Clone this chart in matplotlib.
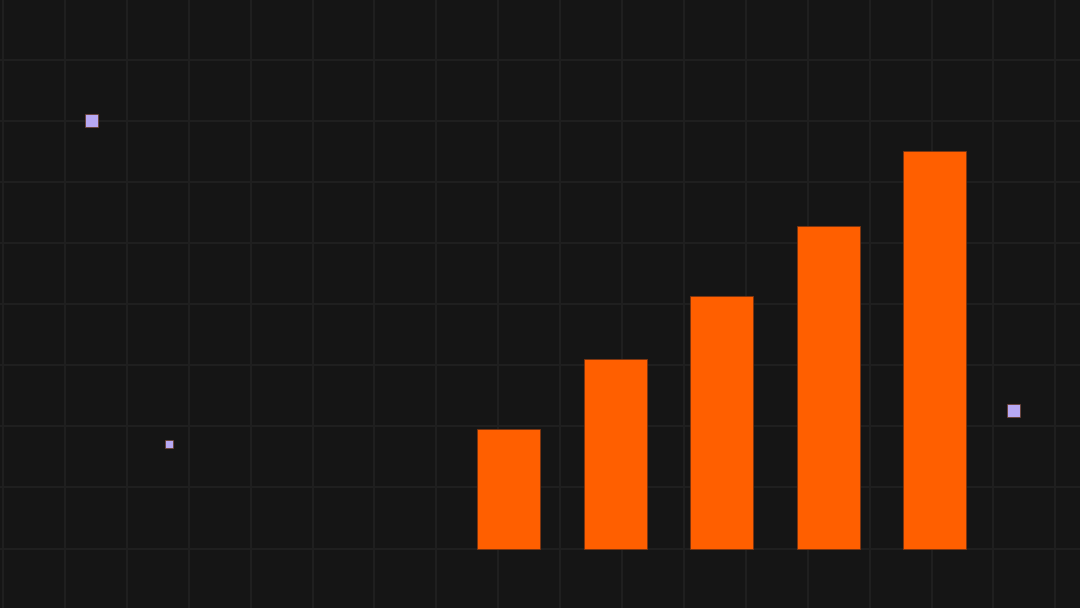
import numpy as np
import matplotlib
matplotlib.use('Agg')
import matplotlib.pyplot as plt
from matplotlib.ticker import FixedLocator, MultipleLocator

# bar series (value units: 10 per grid row)
bar_pos = [0, 1, 2, 3, 4]
bar_values = [19.5, 31.0, 41.3, 52.8, 65.1]

# decorative purple squares
sq_x = [-3.917, -3.185, 4.737]
sq_y = [70.2, 17.1, 22.7]
sq_size = [12, 8, 12]

BG = '#151515'
GRID = '#1f1f1f'
ORANGE = '#ff5f00'
PURPLE = '#b7a8f3'

fig = plt.figure(figsize=(10.8, 6.08), dpi=100, facecolor=BG)
ax = fig.add_axes([0, 0, 1, 1], facecolor=BG)

# pixel mapping: bar slot = 106.5 px, 10 value units = 61.1 px
px_x = 106.5
px_y = 6.11
x0_px, y0_px = 508.5, 548.5
ax.set_xlim(-x0_px / px_x, (1080 - x0_px) / px_x)
ax.set_ylim(-(608 - y0_px) / px_y, y0_px / px_y)

# grid
vgrid = (3 + 61.9 * np.arange(18) - x0_px) / px_x
ax.xaxis.set_major_locator(FixedLocator(vgrid))
ax.yaxis.set_major_locator(MultipleLocator(10))
ax.grid(True, color=GRID, linewidth=1.5)
ax.set_axisbelow(True)
ax.tick_params(length=0, labelbottom=False, labelleft=False)
for s in ax.spines.values():
    s.set_visible(False)

ax.bar(bar_pos, bar_values, width=63 / px_x, color=ORANGE,
       edgecolor='#7a3410', linewidth=0.6, zorder=3)

for x, y, s in zip(sq_x, sq_y, sq_size):
    ax.scatter([x], [y], marker='s', s=(s * 0.78) ** 2, color=PURPLE,
               edgecolors='#6a3a20', linewidths=0.5, zorder=4)

fig.savefig('out.png', dpi=100, facecolor=BG)
